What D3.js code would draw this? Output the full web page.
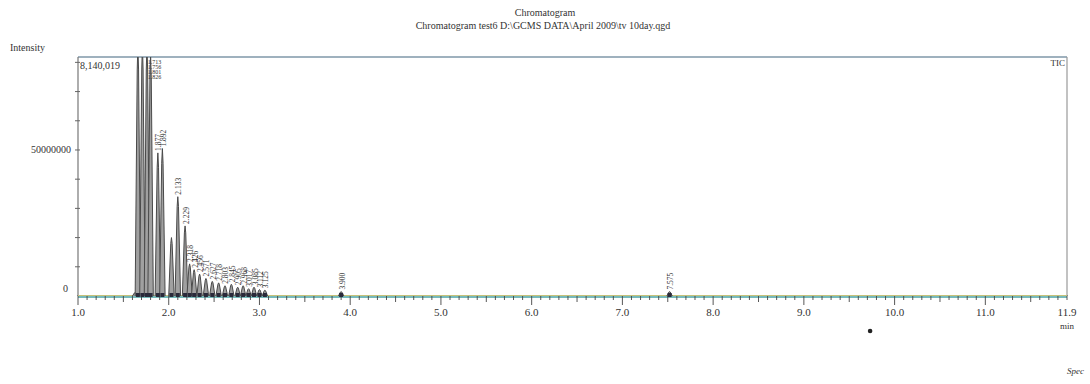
<!DOCTYPE html>
<html>
<head>
<meta charset="utf-8">
<script src="https://cdn.jsdelivr.net/npm/d3@7"></script>
<style>
  body { margin: 0; background: #fff; }
  text { font-family: "Liberation Serif", "DejaVu Serif", serif; fill: #333; }
</style>
</head>
<body>
<svg id="chart" width="1090" height="384"></svg>
<script>
// chromatogram peaks: retention time (min), intensity, printed label ("" = none)
const peakTimes   = [1.63, 1.66, 1.71, 1.76, 1.80, 1.88, 1.93, 2.03, 2.10, 2.18, 2.23, 2.28, 2.34, 2.41, 2.48, 2.55, 2.62, 2.69, 2.76, 2.82, 2.88, 2.94, 3.00, 3.06, 3.90, 7.52];
const peakHeights = [1.2e6, 8.6e7, 8.6e7, 8.6e7, 8.3e7, 4.9e7, 5.05e7, 2.0e7, 3.4e7, 2.4e7, 1.1e7, 0.9e7, 0.75e7, 0.6e7, 0.5e7, 0.45e7, 0.35e7, 0.4e7, 0.3e7, 0.35e7, 0.25e7, 0.3e7, 0.22e7, 0.2e7, 0.15e7, 0.15e7];
const peakLabels  = ["", "", "", "", "", "1.877", "1.892", "", "2.133", "2.229", "2.318", "2.426", "2.456", "2.571", "2.627", "2.718", "2.803", "2.845", "2.905", "2.968", "3.017", "3.085", "3.112", "3.125", "3.900", "7.575"];
const topLabels   = ["1.713", "1.756", "1.801", "1.826"]; // labels of clipped peaks, printed at the top
const xMajorTicks = [1, 2, 3, 4, 5, 6, 7, 8, 9, 10, 11];
const yLabelTicks = [0, 50000000];
const maxLabel = "8,140,019";
const titleText = "Chromatogram";
const subtitleText = "Chromatogram test6  D:\\GCMS DATA\\April 2009\\tv 10day.qgd";

const margin = { left: 78, top: 57, right: 23, bottom: 88 };
const W = 1090, H = 384;
const svg = d3.select("#chart");

const x = d3.scaleLinear().domain([1.0, 11.9]).range([margin.left, W - margin.right]);
const y = d3.scaleLinear().domain([0, 81840019]).range([H - margin.bottom, margin.top]);

// titles
svg.append("text").attr("x", 545).attr("y", 16).attr("text-anchor", "middle")
  .attr("font-size", 10).text(titleText);
svg.append("text").attr("x", 543).attr("y", 29).attr("text-anchor", "middle")
  .attr("font-size", 10).text(subtitleText);
svg.append("text").attr("x", 10).attr("y", 51).attr("font-size", 10).text("Intensity");

svg.append("defs").append("clipPath").attr("id", "plot")
  .append("rect").attr("x", margin.left).attr("y", margin.top)
  .attr("width", x.range()[1] - margin.left).attr("height", y(0) - margin.top);

// frame (top + right)
svg.append("line").attr("x1", margin.left).attr("x2", x.range()[1])
  .attr("y1", margin.top).attr("y2", margin.top).attr("stroke", "#7f97a8").attr("stroke-width", 1.5);
svg.append("line").attr("x1", x.range()[1]).attr("x2", x.range()[1])
  .attr("y1", margin.top).attr("y2", y(0)).attr("stroke", "#999").attr("stroke-width", 1.2);

// y axis
svg.append("line").attr("x1", margin.left).attr("x2", margin.left)
  .attr("y1", margin.top).attr("y2", y(0)).attr("stroke", "#777").attr("stroke-width", 1.2);
svg.append("g").selectAll("line").data(d3.range(1e7, 8.1e7, 1e7)).join("line")
  .attr("x1", margin.left - 3).attr("x2", margin.left + 2)
  .attr("y1", d => y(d)).attr("y2", d => y(d)).attr("stroke", "#666");
svg.append("g").selectAll("text").data(yLabelTicks).join("text")
  .attr("x", d => d === 0 ? margin.left - 10 : margin.left - 7).attr("y", d => d === 0 ? y(d) - 4 : y(d) + 3)
  .attr("text-anchor", "end").attr("font-size", 10)
  .text(d => d === 0 ? "0" : d3.format("d")(d));

// x axis
const axisY = y(0) + 1;
svg.append("line").attr("x1", margin.left).attr("x2", x.range()[1])
  .attr("y1", axisY).attr("y2", axisY).attr("stroke", "#4aa3a3").attr("stroke-width", 1.3);
const minor = d3.range(10, 120).map(d => d / 10);
svg.append("g").selectAll("line").data(minor).join("line")
  .attr("x1", d => x(d)).attr("x2", d => x(d))
  .attr("y1", axisY - 2)
  .attr("y2", d => axisY + (Math.abs(d - Math.round(d)) < 1e-6 ? 8 : Math.abs(d * 2 - Math.round(d * 2)) < 1e-6 ? 5 : 3))
  .attr("stroke", "#444").attr("stroke-width", 0.9);
svg.append("g").selectAll("text").data(xMajorTicks).join("text")
  .attr("x", d => x(d)).attr("y", axisY + 19).attr("text-anchor", "middle")
  .attr("font-size", 11).text(d => d3.format(".1f")(d));
svg.append("text").attr("x", x(11.9)).attr("y", axisY + 19).attr("text-anchor", "middle")
  .attr("font-size", 11).text("11.9");
svg.append("text").attr("x", x(11.9)).attr("y", axisY + 32).attr("text-anchor", "middle")
  .attr("font-size", 9).text("min");

// baseline trace
const plot = svg.append("g").attr("clip-path", "url(#plot)");
plot.append("line").attr("x1", margin.left).attr("x2", x.range()[1])
  .attr("y1", y(0) - 0.5).attr("y2", y(0) - 0.5).attr("stroke", "#c7c27a").attr("stroke-width", 1.2);

// peaks
const halfW = 0.03;
plot.selectAll(".peak").data(peakTimes).join("path").attr("class", "peak")
  .attr("d", (t, i) => `M${x(t - halfW)},${y(0)}L${x(t - halfW / 4)},${y(peakHeights[i] * 0.9)}L${x(t)},${y(peakHeights[i])}L${x(t + halfW / 4)},${y(peakHeights[i] * 0.9)}L${x(t + halfW)},${y(0)}`)
  .attr("fill", "#a0a0a0").attr("stroke", "#4a4a4a").attr("stroke-width", 1);

// peak markers at the baseline
svg.append("g").selectAll("rect").data(peakTimes.slice(1)).join("rect")
  .attr("x", t => x(t) - 2).attr("y", y(0) - 3).attr("width", 4).attr("height", 4)
  .attr("fill", "#2a2a3a");

// peak labels (rotated)
svg.append("g").selectAll("text").data(peakTimes).join("text")
  .attr("transform", (t, i) => `translate(${x(t) + 3.5},${Math.max(y(peakHeights[i]) - 2, margin.top + 30)}) rotate(-90)`)
  .attr("font-size", 7.5).attr("fill", "#223")
  .text((t, i) => peakLabels[i]);

// labels of the clipped peaks, stacked at the top
svg.append("g").selectAll("text").data(topLabels).join("text")
  .attr("x", x(1.77)).attr("y", (d, i) => margin.top + 7 + i * 5)
  .attr("font-size", 6).attr("fill", "#334").text(d => d);

svg.append("text").attr("x", margin.left + 2).attr("y", margin.top + 12)
  .attr("font-size", 10).text(maxLabel);
svg.append("text").attr("x", x.range()[1] - 2).attr("y", margin.top + 9)
  .attr("text-anchor", "end").attr("font-size", 9).text("TIC");

// marker dot below the axis and footer
svg.append("circle").attr("cx", x(9.73)).attr("cy", 331).attr("r", 2.3).attr("fill", "#222");
svg.append("text").attr("x", 1084).attr("y", 374).attr("text-anchor", "end")
  .attr("font-size", 9).attr("font-style", "italic").text("Spec");
</script>
</body>
</html>
